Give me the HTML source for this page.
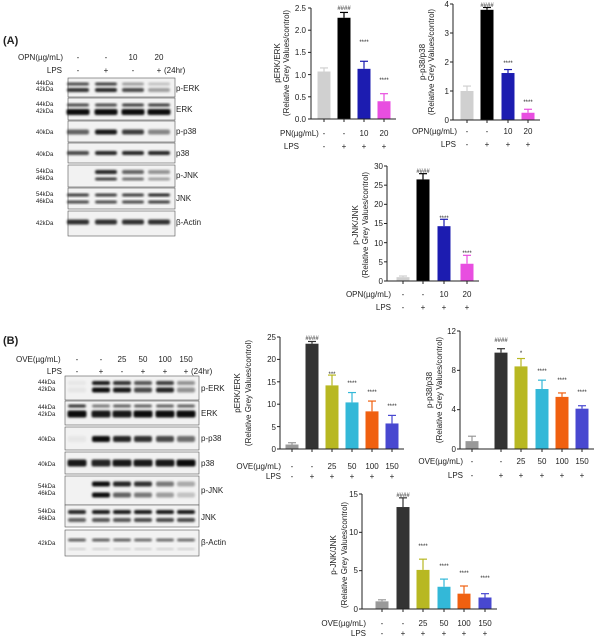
<!DOCTYPE html>
<html><head><meta charset="utf-8"><style>
html,body{margin:0;padding:0;background:#fff;}
svg{display:block;font-family:"Liberation Sans",sans-serif;}
text{fill:#222;}
.t{font-size:8px;}
.s{font-size:6px;}
.r{text-anchor:end;}
.m{text-anchor:middle;}
</style></head><body>
<svg id="s" width="600" height="637" viewBox="0 0 600 637">
<defs><filter id="b" x="-20%" y="-50%" width="140%" height="200%"><feGaussianBlur stdDeviation="1.1"/></filter></defs>
<g id="g"></g>
<!-- Panel A blot labels -->
<text x="3" y="44" style="font-size:11px;font-weight:bold">(A)</text>
<text x="18" y="60" class="t">OPN(µg/mL)</text>
<text x="78" y="60" class="t m">-</text><text x="106" y="60" class="t m">-</text><text x="133" y="60" class="t m">10</text><text x="159" y="60" class="t m">20</text>
<text x="62" y="73" class="t r">LPS</text>
<text x="78" y="73" class="t m">-</text><text x="106" y="73" class="t m">+</text><text x="133" y="73" class="t m">-</text><text x="159" y="73" class="t m">+</text><text x="164" y="73" class="t">(24hr)</text>
<text x="176" y="91" class="t">p-ERK</text><text x="176" y="112" class="t">ERK</text><text x="176" y="134" class="t">p-p38</text><text x="176" y="156" class="t">p38</text><text x="176" y="178" class="t">p-JNK</text><text x="176" y="201" class="t">JNK</text><text x="176" y="225" class="t">β-Actin</text>
<g class="s"><text x="36" y="85">44kDa</text><text x="36" y="91">42kDa</text><text x="36" y="106">44kDa</text><text x="36" y="113">42kDa</text><text x="36" y="134">40kDa</text><text x="36" y="156">40kDa</text><text x="36" y="173">54kDa</text><text x="36" y="180">46kDa</text><text x="36" y="196">54kDa</text><text x="36" y="203">46kDa</text><text x="36" y="225">42kDa</text></g>
<!-- Panel B blot labels -->
<text x="3" y="344" style="font-size:11px;font-weight:bold">(B)</text>
<text x="16" y="362" class="t">OVE(µg/mL)</text>
<text x="77" y="362" class="t m">-</text><text x="101" y="362" class="t m">-</text><text x="122" y="362" class="t m">25</text><text x="143" y="362" class="t m">50</text><text x="165" y="362" class="t m">100</text><text x="186" y="362" class="t m">150</text>
<text x="62" y="374" class="t r">LPS</text>
<text x="77" y="374" class="t m">-</text><text x="101" y="374" class="t m">+</text><text x="122" y="374" class="t m">-</text><text x="143" y="374" class="t m">+</text><text x="165" y="374" class="t m">+</text><text x="186" y="374" class="t m">+</text><text x="191" y="374" class="t">(24hr)</text>
<text x="201" y="391" class="t">p-ERK</text><text x="201" y="416" class="t">ERK</text><text x="201" y="441" class="t">p-p38</text><text x="201" y="466" class="t">p38</text><text x="201" y="493" class="t">p-JNK</text><text x="201" y="520" class="t">JNK</text><text x="201" y="545" class="t">β-Actin</text>
<g class="s"><text x="38" y="384">44kDa</text><text x="38" y="391">42kDa</text><text x="38" y="409">44kDa</text><text x="38" y="416">42kDa</text><text x="38" y="441">40kDa</text><text x="38" y="466">40kDa</text><text x="38" y="488">54kDa</text><text x="38" y="495">46kDa</text><text x="38" y="513">54kDa</text><text x="38" y="520">46kDa</text><text x="38" y="545">42kDa</text></g>

<!-- Chart texts -->
<g class="t r">
<text x="306" y="11">2.5</text><text x="306" y="33">2.0</text><text x="306" y="55">1.5</text><text x="306" y="78">1.0</text><text x="306" y="100">0.5</text><text x="306" y="122">0.0</text>
<text x="449" y="7">4</text><text x="449" y="36">3</text><text x="449" y="65">2</text><text x="449" y="94">1</text><text x="449" y="123">0</text>
<text x="383" y="169">30</text><text x="383" y="188">25</text><text x="383" y="207">20</text><text x="383" y="226">15</text><text x="383" y="246">10</text><text x="383" y="265">5</text><text x="383" y="284">0</text>
<text x="276" y="340">25</text><text x="276" y="362">20</text><text x="276" y="385">15</text><text x="276" y="407">10</text><text x="276" y="430">5</text><text x="276" y="452">0</text>
<text x="456" y="334">12</text><text x="456" y="373">8</text><text x="456" y="412">4</text><text x="456" y="452">0</text>
<text x="358" y="497">15</text><text x="358" y="535">10</text><text x="358" y="573">5</text><text x="358" y="612">0</text>
</g>
<g class="t">
<text x="280" y="136">PN(µg/mL)</text><text x="324" y="136" class="m">-</text><text x="344" y="136" class="m">-</text><text x="364" y="136" class="m">10</text><text x="384" y="136" class="m">20</text>
<text x="299" y="149" class="r">LPS</text><text x="324" y="149" class="m">-</text><text x="344" y="149" class="m">+</text><text x="364" y="149" class="m">+</text><text x="384" y="149" class="m">+</text>
<text x="457" y="134" class="r">OPN(µg/mL)</text><text x="467" y="134" class="m">-</text><text x="487" y="134" class="m">-</text><text x="508" y="134" class="m">10</text><text x="528" y="134" class="m">20</text>
<text x="456" y="147" class="r">LPS</text><text x="467" y="147" class="m">-</text><text x="487" y="147" class="m">+</text><text x="508" y="147" class="m">+</text><text x="528" y="147" class="m">+</text>
<text x="391" y="297" class="r">OPN(µg/mL)</text><text x="403" y="297" class="m">-</text><text x="423" y="297" class="m">-</text><text x="444" y="297" class="m">10</text><text x="467" y="297" class="m">20</text>
<text x="391" y="310" class="r">LPS</text><text x="403" y="310" class="m">-</text><text x="423" y="310" class="m">+</text><text x="444" y="310" class="m">+</text><text x="467" y="310" class="m">+</text>
<text x="281" y="469" class="r">OVE(µg/mL)</text><text x="292" y="469" class="m">-</text><text x="312" y="469" class="m">-</text><text x="332" y="469" class="m">25</text><text x="352" y="469" class="m">50</text><text x="372" y="469" class="m">100</text><text x="392" y="469" class="m">150</text>
<text x="281" y="479" class="r">LPS</text><text x="292" y="479" class="m">-</text><text x="312" y="479" class="m">+</text><text x="332" y="479" class="m">+</text><text x="352" y="479" class="m">+</text><text x="372" y="479" class="m">+</text><text x="392" y="479" class="m">+</text>
<text x="463" y="464" class="r">OVE(µg/mL)</text><text x="472" y="464" class="m">-</text><text x="501" y="464" class="m">-</text><text x="521" y="464" class="m">25</text><text x="542" y="464" class="m">50</text><text x="562" y="464" class="m">100</text><text x="582" y="464" class="m">150</text>
<text x="463" y="478" class="r">LPS</text><text x="472" y="478" class="m">-</text><text x="501" y="478" class="m">+</text><text x="521" y="478" class="m">+</text><text x="542" y="478" class="m">+</text><text x="562" y="478" class="m">+</text><text x="582" y="478" class="m">+</text>
<text x="366" y="626" class="r">OVE(µg/mL)</text><text x="382" y="626" class="m">-</text><text x="403" y="626" class="m">-</text><text x="423" y="626" class="m">25</text><text x="444" y="626" class="m">50</text><text x="464" y="626" class="m">100</text><text x="485" y="626" class="m">150</text>
<text x="366" y="636" class="r">LPS</text><text x="382" y="636" class="m">-</text><text x="403" y="636" class="m">+</text><text x="423" y="636" class="m">+</text><text x="444" y="636" class="m">+</text><text x="464" y="636" class="m">+</text><text x="485" y="636" class="m">+</text>
</g>
<g class="t m">
<text transform="translate(280,63) rotate(-90)">pERK/ERK</text><text transform="translate(289,63) rotate(-90)">(Relative Grey Values/control)</text>
<text transform="translate(425,62) rotate(-90)">p-p38/p38</text><text transform="translate(434,62) rotate(-90)">(Relative Grey Values/control)</text>
<text transform="translate(358,225) rotate(-90)">p-JNK/JNK</text><text transform="translate(368,225) rotate(-90)">(Relative Grey Values/control)</text>
<text transform="translate(240,393) rotate(-90)">pERK/ERK</text><text transform="translate(251,393) rotate(-90)">(Relative Grey Values/control)</text>
<text transform="translate(432,390) rotate(-90)">p-p38/p38</text><text transform="translate(442,390) rotate(-90)">(Relative Grey Values/control)</text>
<text transform="translate(336,555) rotate(-90)">p-JNK/JNK</text><text transform="translate(347,555) rotate(-90)">(Relative Grey Values/control)</text>
</g>
<g class="s m">
<text x="344" y="10">####</text><text x="364" y="44">****</text><text x="384" y="82">****</text>
<text x="487" y="7">####</text><text x="508" y="65">****</text><text x="528" y="104">****</text>
<text x="423" y="173">####</text><text x="444" y="220">****</text><text x="467" y="255">****</text>
<text x="312" y="340">####</text><text x="332" y="376">***</text><text x="352" y="385">****</text><text x="372" y="394">****</text><text x="392" y="408">****</text>
<text x="501" y="342">####</text><text x="521" y="355">*</text><text x="542" y="373">****</text><text x="562" y="382">****</text><text x="582" y="394">****</text>
<text x="403" y="497">####</text><text x="423" y="548">****</text><text x="444" y="568">****</text><text x="464" y="575">****</text><text x="485" y="580">****</text>
</g>
</svg>
<script>
var NS="http://www.w3.org/2000/svg",G=document.getElementById("g");
function el(t,a){var e=document.createElementNS(NS,t);for(var k in a)e.setAttribute(k,a[k]);G.appendChild(e);return e;}
function chart(ax,y0,ytop,max,ticks,cs,vs,es,cols){
 var sc=(y0-ytop)/max;
 cs.forEach(function(c,i){var h=vs[i]*sc,top=y0-h,et=top-es[i]*sc;
  el("line",{x1:c,x2:c,y1:top,y2:et,stroke:cols[i],"stroke-width":1.2});
  el("line",{x1:c-4,x2:c+4,y1:et,y2:et,stroke:cols[i],"stroke-width":1.2});
  el("rect",{x:c-6.5,y:top,width:13,height:h,fill:cols[i]});});
 el("line",{x1:ax,x2:ax,y1:ytop,y2:y0,stroke:"#222","stroke-width":1});
 el("line",{x1:ax,x2:cs[cs.length-1]+12,y1:y0,y2:y0,stroke:"#222","stroke-width":1});
 ticks.forEach(function(t){var y=y0-t*sc;el("line",{x1:ax-3,x2:ax,y1:y,y2:y,stroke:"#222"});});
 cs.forEach(function(c){el("line",{x1:c,x2:c,y1:y0,y2:y0+3,stroke:"#222"});});
}
var A=["#d0d0d0","#000","#1c1cb0","#e84ee0"],B=["#999","#333","#b8b822","#33b8d8","#f06010","#4848d0"];
chart(311,119,8,2.5,[0,.5,1,1.5,2,2.5],[324,344,364,384],[1.07,2.28,1.13,.4],[.08,.12,.17,.17],A);
chart(453,120,4,4,[0,1,2,3,4],[467,487,508,528],[1,3.8,1.62,.25],[.17,.08,.12,.12],A);
chart(387,281,166,30,[0,5,10,15,20,25,30],[403,423,444,467],[1,26.5,14.3,4.5],[.3,1.5,1.8,2.2],A);
chart(280,449,337,25,[0,5,10,15,20,25],[292,312,332,352,372,392],[1,23.5,14.2,10.4,8.4,5.7],[.4,.5,2.3,2.2,2.3,1.8],B);
chart(460,449,331,12,[0,4,8,12],[472,501,521,542,562,582],[.8,9.8,8.4,6.1,5.3,4.1],[.5,.4,.8,.9,.4,.3],B);
chart(362,609,494,15,[0,5,10,15],[382,403,423,444,464,485],[1,13.3,5.1,2.9,2,1.5],[.2,1.2,1.4,1,1,.5],B);
// blots
function panel(x1,x2,y1,y2,cols,bands){
 el("rect",{x:x1,y:y1,width:x2-x1,height:y2-y1,fill:"#f2f2f2",stroke:"#555","stroke-width":0.6});
 bands.forEach(function(b){cols.forEach(function(c,i){var v=b.v[i];if(v<=0)return;
  el("rect",{x:c-b.w/2,y:b.y-b.h/2,width:b.w,height:b.h,rx:2,fill:"#000","fill-opacity":v,filter:"url(#b)"});});});
}
var cA=[78,106,133,159];
panel(68,175,78,97,cA,[{y:84,h:3,w:22,v:[.7,.75,.35,.2]},{y:90,h:4,w:22,v:[.8,.85,.7,.35]}]);
panel(68,175,98,120,cA,[{y:105,h:3,w:22,v:[.7,.7,.75,.75]},{y:112,h:6,w:23,v:[.95,.95,.95,.95]}]);
panel(68,175,121,142,cA,[{y:132,h:5,w:22,v:[.6,.9,.75,.45]}]);
panel(68,175,143,163,cA,[{y:153,h:4,w:22,v:[.7,.85,.85,.85]}]);
panel(68,175,165,187,cA,[{y:172,h:4,w:22,v:[0,.85,.6,.4]},{y:179,h:3,w:22,v:[0,.75,.55,.35]}]);
panel(68,175,188,209,cA,[{y:195,h:3,w:22,v:[.75,.75,.75,.85]},{y:202,h:3,w:22,v:[.7,.7,.7,.75]}]);
panel(68,175,211,236,cA,[{y:222,h:5,w:22,v:[.8,.8,.8,.8]}]);
var cB=[77,101,122,143,165,186];
panel(65,199,376,400,cB,[{y:383,h:4,w:18,v:[.05,.9,.8,.65,.75,.4]},{y:390,h:5,w:18,v:[.05,.95,.9,.7,.85,.4]}]);
panel(65,199,401,425,cB,[{y:406,h:3,w:18,v:[.8,.5,.6,.6,.6,.6]},{y:414,h:7,w:19,v:[.95,.9,.9,.95,.95,.95]}]);
panel(65,199,427,450,cB,[{y:439,h:6,w:18,v:[.05,.95,.85,.8,.7,.55]}]);
panel(65,199,452,474,cB,[{y:463,h:7,w:19,v:[.9,.85,.9,.9,.9,.95]}]);
panel(65,199,476,505,cB,[{y:484,h:5,w:18,v:[0,.95,.85,.8,.5,.3]},{y:495,h:5,w:18,v:[0,.95,.6,.5,.35,.2]}]);
panel(65,199,505,527,cB,[{y:512,h:4,w:18,v:[.85,.9,.9,.9,.9,.9]},{y:520,h:4,w:18,v:[.6,.65,.65,.7,.7,.7]}]);
panel(65,199,530,556,cB,[{y:540,h:3,w:18,v:[.6,.6,.6,.55,.55,.55]},{y:549,h:2,w:18,v:[.15,.15,.15,.15,.15,.15]}]);
</script>
</body></html>
